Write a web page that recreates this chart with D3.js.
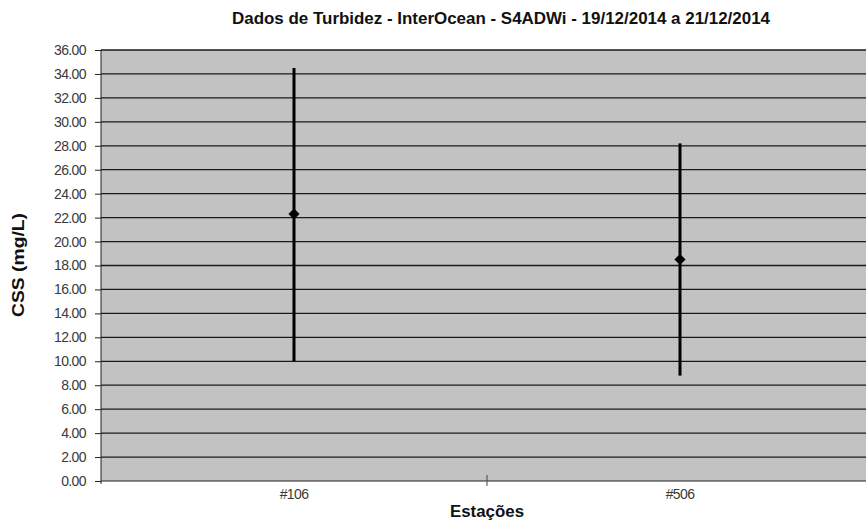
<!DOCTYPE html>
<html><head><meta charset="utf-8">
<script src="https://cdn.jsdelivr.net/npm/d3@7"></script>
<style>body{margin:0;background:#fff;}svg{display:block;font-family:"Liberation Sans",Arial,sans-serif;}</style>
</head><body><svg id="c" width="866" height="522"></svg>
<script>
const categories = ["#106", "#506"];
const meanValues = [22.3, 18.5];
const maxValues = [34.5, 28.2];
const minValues = [10.0, 8.8];
const yTicks = d3.range(0, 36.01, 2);

const svg = d3.select("#c");
const m = {left: 101, right: 873, top: 50, bottom: 481};
const x = d3.scaleBand().domain(categories).range([m.left, m.right]);
const y = d3.scaleLinear().domain([0, 36]).range([m.bottom, m.top]);

svg.append("rect").attr("x", m.left).attr("y", m.top).attr("width", m.right - m.left).attr("height", m.bottom - m.top).attr("fill", "#c2c2c2");

// gridlines
svg.append("g").selectAll("line").data(yTicks.filter(d => d > 0)).join("line")
  .attr("x1", m.left).attr("x2", m.right).attr("y1", d => y(d)).attr("y2", d => y(d))
  .attr("stroke", "#1a1a1a").attr("stroke-width", 1.3);

// y axis
const ya = svg.append("g").attr("transform", `translate(${m.left},0)`)
  .call(d3.axisLeft(y).tickValues(yTicks).tickFormat(d3.format(".2f")).tickSize(6).tickPadding(9));
ya.select(".domain").attr("stroke", "#222").attr("d", `M0,${m.top}V${m.bottom + 3}`);
ya.selectAll(".tick line").attr("stroke", "#222");
ya.selectAll(".tick text").attr("fill", "#3a3a3a").attr("font-size", 14).attr("font-family", "Liberation Sans, Arial").attr("letter-spacing", "-0.6");

// x axis
const xa = svg.append("g").attr("transform", `translate(0,${m.bottom})`)
  .call(d3.axisBottom(x).tickSize(0).tickPadding(8));
xa.select(".domain").attr("stroke", "#222").attr("d", `M${m.left},0H${m.right}`);
xa.selectAll(".tick text").attr("fill", "#3a3a3a").attr("font-size", 14).attr("font-family", "Liberation Sans, Arial").attr("letter-spacing", "-0.6");
// category separator tick
xa.append("line").attr("x1", x(categories[1])).attr("x2", x(categories[1])).attr("y1", -6).attr("y2", 5).attr("stroke", "#444");

// range lines
const cx = d => x(d) + x.bandwidth() / 2;
svg.append("g").selectAll("line").data(categories).join("line")
  .attr("x1", cx).attr("x2", cx)
  .attr("y1", (d, i) => y(maxValues[i])).attr("y2", (d, i) => y(minValues[i]))
  .attr("stroke", "#000").attr("stroke-width", 3);

// mean diamonds
svg.append("g").selectAll("path").data(categories).join("path")
  .attr("d", d3.symbol(d3.symbolDiamond2, 80)())
  .attr("transform", (d, i) => `translate(${cx(d)},${y(meanValues[i])})`)
  .attr("fill", "#000");

// title and labels
svg.append("text").attr("x", 232).attr("y", 24)
  .attr("font-weight", "bold").attr("font-size", 16).attr("fill", "#111")
  .attr("textLength", 538).attr("lengthAdjust", "spacingAndGlyphs")
  .text("Dados de Turbidez - InterOcean - S4ADWi - 19/12/2014  a 21/12/2014");
svg.append("text").attr("x", 450).attr("y", 517)
  .attr("font-weight", "bold").attr("font-size", 16).attr("fill", "#111")
  .attr("textLength", 74).attr("lengthAdjust", "spacingAndGlyphs").text("Estações");
svg.append("text").attr("transform", "translate(24,265) rotate(-90)").attr("text-anchor", "middle")
  .attr("font-weight", "bold").attr("font-size", 16).attr("fill", "#111")
  .attr("textLength", 104).attr("lengthAdjust", "spacingAndGlyphs").text("CSS (mg/L)");
</script></body></html>
